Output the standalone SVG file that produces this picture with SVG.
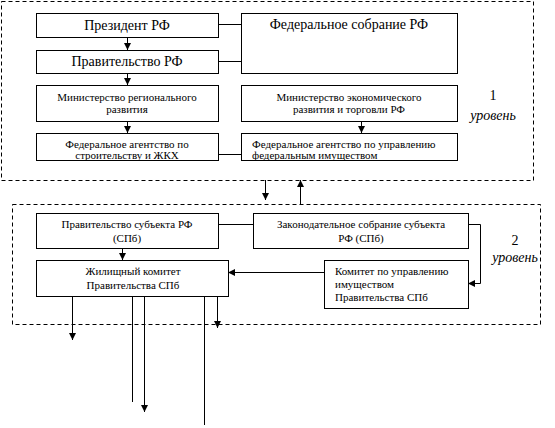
<svg xmlns="http://www.w3.org/2000/svg" width="555" height="428" viewBox="0 0 555 428">
<defs>
<marker id="ah" viewBox="0 0 10 10" refX="10" refY="5" markerWidth="7" markerHeight="7" markerUnits="userSpaceOnUse" orient="auto">
<path d="M0,0 L10,5 L0,10 z" fill="#000"/>
</marker>
</defs>
<rect width="555" height="428" fill="#fff"/>
<g fill="none" stroke="#000" stroke-width="1" stroke-dasharray="4,3">
<rect x="1.5" y="1.5" width="532" height="179"/>
<rect x="12.5" y="204.5" width="528" height="120"/>
</g>
<g id="connectors" fill="none" stroke="#000" stroke-width="1">
<path d="M127.5,37 V50" marker-end="url(#ah)"/>
<path d="M127.5,73 V85" marker-end="url(#ah)"/>
<path d="M127.5,121 V133" marker-end="url(#ah)"/>
<path d="M218,24.5 H241"/>
<path d="M218,61.5 H241"/>
<path d="M218,154.5 H241"/>
<path d="M361.5,121 V133" marker-end="url(#ah)"/>
<path d="M265.5,180 V200" marker-end="url(#ah)"/>
<path d="M300.5,204 V180" marker-end="url(#ah)"/>
<path d="M218,224.5 H253"/>
<path d="M122.5,248 V260" marker-end="url(#ah)"/>
<path d="M324,272.5 H228" marker-end="url(#ah)"/>
<path d="M468,224.5 H480.5 V283.5 H468" marker-end="url(#ah)"/>
<path d="M72.5,296 V340" marker-end="url(#ah)"/>
<path d="M132.5,296 V402"/>
<path d="M144.5,296 V412" marker-end="url(#ah)"/>
<path d="M204.5,296 V425"/>
<path d="M217.5,296 V328" marker-end="url(#ah)"/>
</g>
<g id="nodes">
<g id="n1"><rect fill="#fff" stroke="#000" x="36.5" y="13.5" width="182" height="24"/><text font-family="Liberation Serif" font-size="14" text-anchor="middle" x="127" y="30">Президент РФ</text></g>
<g id="n2"><rect fill="#fff" stroke="#000" x="36.5" y="50.5" width="182" height="23"/><text font-family="Liberation Serif" font-size="14" text-anchor="middle" x="127" y="66">Правительство РФ</text></g>
<g id="n3"><rect fill="#fff" stroke="#000" x="241.5" y="13.5" width="216" height="60"/><text font-family="Liberation Serif" font-size="14" text-anchor="middle" x="349" y="29">Федеральное собрание РФ</text></g>
<g id="n4"><rect fill="#fff" stroke="#000" x="36.5" y="85.5" width="182" height="36"/><text font-family="Liberation Serif" font-size="11" text-anchor="middle" x="127" y="101">Министерство регионального</text><text font-family="Liberation Serif" font-size="11" text-anchor="middle" x="127" y="113">развития</text></g>
<g id="n5"><rect fill="#fff" stroke="#000" x="241.5" y="85.5" width="216" height="36"/><text font-family="Liberation Serif" font-size="11" text-anchor="middle" x="349" y="101">Министерство экономического</text><text font-family="Liberation Serif" font-size="11" text-anchor="middle" x="349" y="113">развития и торговли РФ</text></g>
<g id="n6"><rect fill="#fff" stroke="#000" x="36.5" y="133.5" width="182" height="27"/><text font-family="Liberation Serif" font-size="11" text-anchor="middle" x="127" y="148">Федеральное агентство по</text><text font-family="Liberation Serif" font-size="11" text-anchor="middle" x="127" y="159">строительству и ЖКХ</text></g>
<g id="n7"><rect fill="#fff" stroke="#000" x="241.5" y="133.5" width="216" height="27"/><text font-family="Liberation Serif" font-size="11" x="252" y="148">Федеральное агентство по управлению</text><text font-family="Liberation Serif" font-size="11" x="252" y="159">федеральным имуществом</text></g>
<g id="n8"><rect fill="#fff" stroke="#000" x="36.5" y="213.5" width="182" height="35"/><text font-family="Liberation Serif" font-size="11" text-anchor="middle" x="127" y="228">Правительство субъекта РФ</text><text font-family="Liberation Serif" font-size="11" text-anchor="middle" x="127" y="242">(СПб)</text></g>
<g id="n9"><rect fill="#fff" stroke="#000" x="253.5" y="213.5" width="215" height="35"/><text font-family="Liberation Serif" font-size="11" text-anchor="middle" x="361" y="228">Законодательное собрание субъекта</text><text font-family="Liberation Serif" font-size="11" text-anchor="middle" x="361" y="242">РФ (СПб)</text></g>
<g id="n10"><rect fill="#fff" stroke="#000" x="36.5" y="260.5" width="192" height="36"/><text font-family="Liberation Serif" font-size="11" text-anchor="middle" x="133" y="275">Жилищный комитет</text><text font-family="Liberation Serif" font-size="11" text-anchor="middle" x="133" y="289">Правительства СПб</text></g>
<g id="n11"><rect fill="#fff" stroke="#000" x="324.5" y="260.5" width="144" height="48"/><text font-family="Liberation Serif" font-size="11" x="335" y="275">Комитет по управлению</text><text font-family="Liberation Serif" font-size="11" x="335" y="288">имуществом</text><text font-family="Liberation Serif" font-size="11" x="335" y="301">Правительства СПб</text></g>
</g>
<g id="lvl1"><text font-family="Liberation Serif" font-size="14" text-anchor="middle" x="493" y="100">1</text><text font-family="Liberation Serif" font-size="14" font-style="italic" text-anchor="middle" x="493" y="120">уровень</text></g>
<g id="lvl2"><text font-family="Liberation Serif" font-size="14" text-anchor="middle" x="515" y="245">2</text><text font-family="Liberation Serif" font-size="14" font-style="italic" text-anchor="middle" x="515" y="262">уровень</text></g>
</svg>
